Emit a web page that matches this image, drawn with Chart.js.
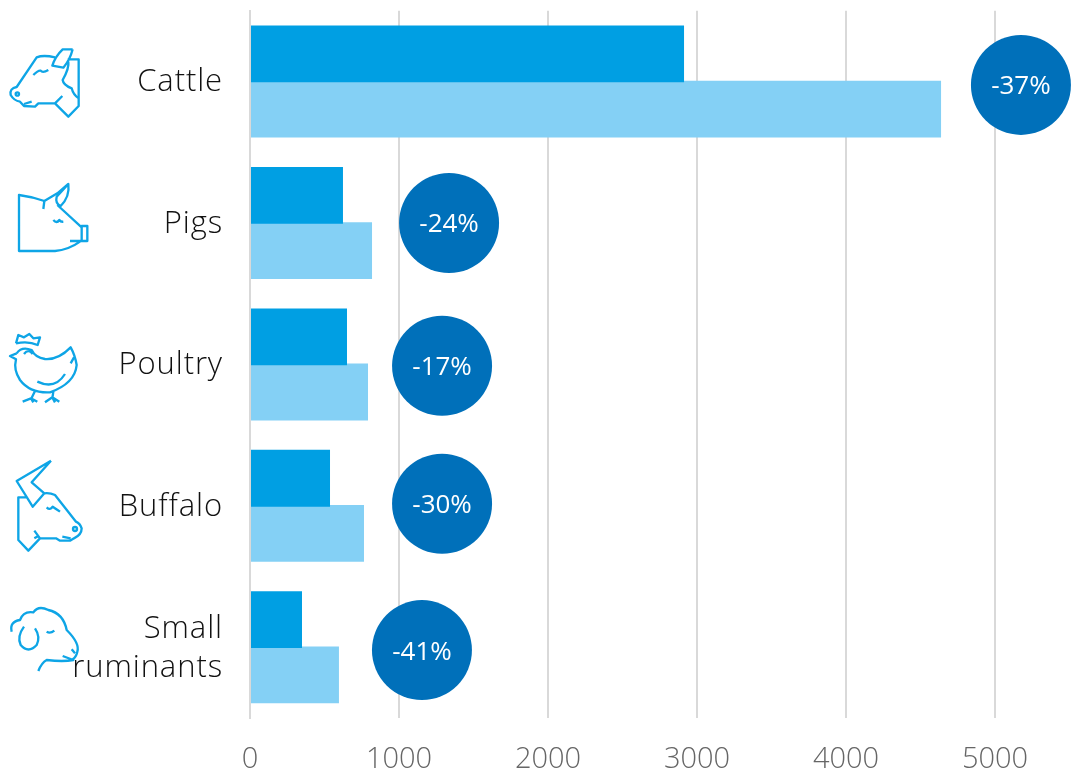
<!DOCTYPE html>
<html>
<head>
<meta charset="utf-8">
<script src="https://cdn.jsdelivr.net/npm/chart.js@4"></script>
<style>
  html, body { margin: 0; background: #fff; overflow: hidden; }
  canvas { display: block; }
</style>
</head>
<body>
<canvas id="chart-livestock" width="1071" height="770"></canvas>
<script>
const categories = ['Cattle', 'Pigs', 'Poultry', 'Buffalo', ['Small', 'ruminants']];
const darkValues = [2913, 624, 651, 537, 349];
const lightValues = [4638, 819, 792, 765, 597];
const changeLabels = ['-37%', '-24%', '-17%', '-30%', '-41%'];
const changeX = [5174, 1336, 1289, 1289, 1154];
const changeRow = [0.524, 1.5, 2.51, 3.485, 4.52];
const xTicks = [0, 1000, 2000, 3000, 4000, 5000];

const fontName = '"Open Sans", sans-serif';

// icon outlines, traced at 3x, drawn at 1/3 scale
const icons = [
  { x: 0, y: 20, d: 'M203 118H236V258L205 290L165 250H115L105 260L72 258L60 245Q42 242 32 225Q28 205 50 201L110 112Q130 104 165 112M218 88H188Q165 110 157 137L190 143Q210 120 218 88M205 125Q208 145 188 180Q190 195 215 205Q220 225 236 235M165 250L187 228M100 165Q115 150 122 152Q128 160 145 150M72 252L95 245M47 222a5 5 0 1 0 10 0a5 5 0 1 0 -10 0' },
  { x: 0, y: 20, d: 'M133 543Q95 530 57 525V693H165Q205 690 240 665M133 543L172 520L205 492Q210 530 182 558Q165 550 170 530L205 492M133 543L130 567M172 555L245 622M245 618H262V663H245ZM210 663H245M160 600Q170 612 178 600Q182 606 190 605' },
  { x: 0, y: 320, d: 'M48 70L55 45L72 52L88 42L100 55L120 52L113 75Q85 62 48 70M50 100Q65 78 95 90Q105 112 135 117Q175 120 212 82Q225 105 230 135Q225 190 150 217Q90 220 60 180Q40 150 48 118L30 108L50 100M212 130L222 112M72 102Q85 85 98 102M112 185Q165 210 195 162M105 213L93 238M68 245L93 235L112 245M93 235L100 247M160 215L157 235M135 247L157 232L178 245M157 232L165 247' },
  { x: 0, y: 320, d: 'M153 422L50 483L98 560L133 520L95 487L153 422M80 532H55V660L85 692L120 655H168L180 662H210L222 655Q245 645 245 625Q240 610 228 605L165 525Q150 518 133 520M120 655L103 632M103 655L115 648M140 562Q150 572 158 560Q170 568 180 575M187 650L212 655M219 627a6 6 0 1 0 12 0a6 6 0 1 0 -12 0' },
  { x: 0, y: 580, d: 'M35 155Q28 125 60 120Q70 92 100 97Q115 75 145 90Q190 100 200 150Q240 190 232 215Q228 232 218 238M188 228L220 240Q190 246 140 240Q125 248 115 273M72 140Q50 170 62 195Q85 222 110 195Q122 170 105 145M140 155Q150 162 163 152M215 208L225 220' }
];

const bubbleText = {
  id: 'bubbleText',
  afterDraw(chart) {
    const ctx = chart.ctx;
    ctx.save();
    ctx.fillStyle = '#fff';
    ctx.font = '400 26px ' + fontName;
    ctx.textAlign = 'center';
    ctx.textBaseline = 'middle';
    chart.getDatasetMeta(2).data.forEach((pt, i) => {
      ctx.fillText(changeLabels[i], pt.x, pt.y + 2);
    });
    ctx.restore();
  }
};

const iconPlugin = {
  id: 'iconPlugin',
  afterDraw(chart) {
    const ctx = chart.ctx;
    icons.forEach(icon => {
      ctx.save();
      ctx.translate(icon.x, icon.y);
      ctx.scale(1 / 3, 1 / 3);
      ctx.strokeStyle = '#0ea5e6';
      ctx.lineWidth = 7;
      ctx.lineJoin = 'round';
      ctx.stroke(new Path2D(icon.d));
      ctx.restore();
    });
  }
};

// category labels are tracked out a little in the original
const labelSpacing = {
  id: 'labelSpacing',
  afterLayout(chart) {
    const s = chart.scales.y;
    const drawLabels = s.constructor.prototype.drawLabels;
    s.drawLabels = function (area) {
      chart.ctx.save();
      chart.ctx.letterSpacing = '0.9px';
      drawLabels.call(this, area);
      chart.ctx.restore();
    };
  }
};

new Chart(document.getElementById('chart-livestock'), {
  type: 'bar',
  data: {
    labels: categories,
    datasets: [
      { label: 'Dark', indexAxis: 'y', data: darkValues, backgroundColor: '#009fe3', borderWidth: 0, categoryPercentage: 0.78, barPercentage: 1.03 },
      { label: 'Light', indexAxis: 'y', data: lightValues, backgroundColor: '#84d0f5', borderWidth: 0, categoryPercentage: 0.78, barPercentage: 1.03 },
      {
        type: 'bubble',
        label: 'Change',
        data: changeX.map((x, i) => ({ x: x, y: changeRow[i] })),
        xAxisID: 'x',
        yAxisID: 'yChange',
        backgroundColor: '#0070ba',
        radius: 50,
        borderWidth: 0,
        clip: false,
        order: -1
      }
    ]
  },
  options: {
    responsive: false,
    animation: false,
    layout: { autoPadding: false, padding: { top: 10.8, right: 76, left: 0, bottom: 0 } },
    plugins: { legend: { display: false }, tooltip: { enabled: false } },
    scales: {
      x: {
        type: 'linear',
        position: 'bottom',
        offset: false,
        min: 0,
        max: 5000,
        afterFit: s => { s.height = 52; },
        afterBuildTicks: s => { s.ticks = xTicks.map(v => ({ value: v })); },
        grid: { color: '#d9d9d9', lineWidth: 2, drawTicks: false, offset: false },
        border: { display: false },
        ticks: { color: '#666666', padding: 24, maxRotation: 0, callback: v => String(v), font: { family: fontName, size: 29, weight: '300' } }
      },
      y: {
        type: 'category',
        position: 'left',
        offset: true,
        afterFit: s => { s.width = 250; s.paddingTop = 0; s.paddingBottom = 0; },
        grid: { display: false, drawTicks: false },
        border: { display: true, color: '#d9d9d9', width: 2, z: 1 },
        ticks: { color: '#111111', padding: 27, labelOffset: 1, font: { family: fontName, size: 31, weight: '300', lineHeight: 1.26 } }
      },
      yChange: { type: 'linear', display: false, offset: false, min: 0, max: 5, reverse: true }
    }
  },
  plugins: [bubbleText, iconPlugin, labelSpacing]
});
</script>
</body>
</html>
